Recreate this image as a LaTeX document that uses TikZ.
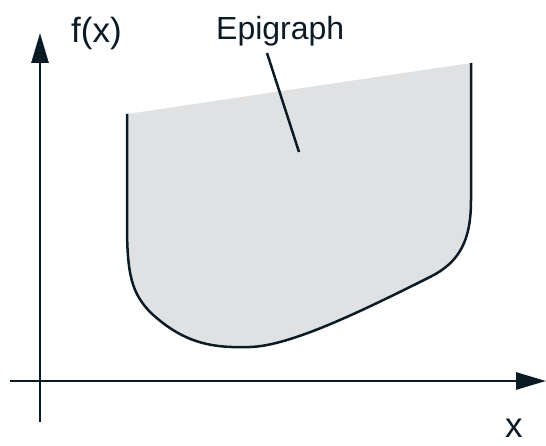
\documentclass[tikz,border=0pt]{standalone}
\usepackage{fontspec}
\setmainfont{Liberation Sans}
\usetikzlibrary{arrows.meta}
\definecolor{ink}{HTML}{0B1B26}
\definecolor{epi}{HTML}{E0E1E2}
\tikzset{
  axis/.style={draw=ink, line width=2.8pt, -{Triangle[length=30pt,width=17pt]}},
  edge/.style={draw=ink, line width=2.5pt},
  lbl/.style={text=ink, font=\fontsize{32}{36}\selectfont, inner sep=0pt, anchor=base west},
  axlbl/.style={text=ink, font=\fontsize{35}{40}\selectfont, inner sep=0pt, anchor=base west},
}
\begin{document}
\begin{tikzpicture}[x=1pt,y=-1pt]
\useasboundingbox (0,0) rectangle (546,446);
% epigraph region
\fill[epi] (127,114) -- (127,225) .. controls (127,275) and (132,293) .. (150,312)
  .. controls (185,345) and (215,348) .. (250,347)
  .. controls (290,346) and (360,312) .. (430,277)
  .. controls (460,262) and (471,240) .. (471,200) -- (471,63) -- cycle;
\draw[edge] (127,114) -- (127,225) .. controls (127,275) and (132,293) .. (150,312)
  .. controls (185,345) and (215,348) .. (250,347)
  .. controls (290,346) and (360,312) .. (430,277)
  .. controls (460,262) and (471,240) .. (471,200) -- (471,63);
% axes
\coordinate (yb) at (40,422);
\coordinate (yt) at (40,33);
\coordinate (xl) at (10,381);
\coordinate (xr) at (546,381);
\draw[axis] (yb) -- (yt);
\draw[axis] (xl) -- (xr);
% labels
\node[axlbl] (fx) at (71,43) {f(x)};
\node[axlbl] (xlab) at (505,437) {x};
\node[lbl] (epilab) at (216,40) {Epigraph};
\coordinate (pt) at (299,152);
\draw[edge] (267,53) -- (pt);
\end{tikzpicture}
\end{document}
